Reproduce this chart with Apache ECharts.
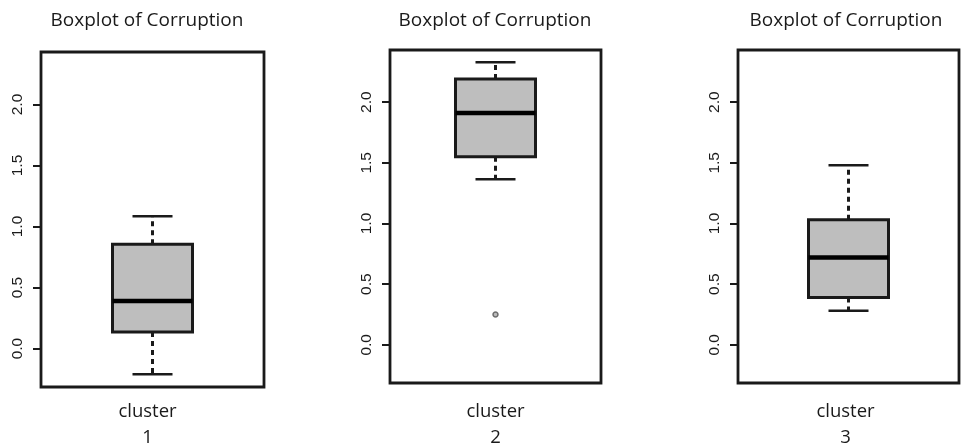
<!DOCTYPE html>
<html>
<head>
<meta charset="utf-8">
<script src="https://cdn.jsdelivr.net/npm/echarts@6/dist/echarts.min.js"></script>
<style>html,body{margin:0;padding:0;background:#fff}#c{width:961px;height:446px}</style>
</head>
<body>
<div id="c"></div>
<script>
// Data
const titleText = 'Boxplot of Corruption';
const xName = 'cluster';
const clusters = ['1', '2', '3'];
const lowerWhisker = [-0.21, 1.365, 0.28];
const q1 = [0.135, 1.55, 0.39];
const median = [0.39, 1.91, 0.72];
const q3 = [0.855, 2.19, 1.03];
const upperWhisker = [1.085, 2.33, 1.48];
const outliers = [[1, 0.25]]; // [cluster index, value]
const yTicks = [0, 0.5, 1.0, 1.5, 2.0];
const yMin = -0.315, yMax = 2.43;

const grids = [
  {left: 41, top: 52, width: 223, height: 335},
  {left: 390, top: 50, width: 211, height: 333},
  {left: 738, top: 50, width: 221, height: 333}
];
const titleCenters = [142, 490, 841];
const labelPads = [[0, 10, 0, 0], [0, 0, 0, 0], [0, 6, 0, 0]];
const labelMargins = [12, 16, 16];

const chart = echarts.init(document.getElementById('c'));
const option = {
  animation: false,
  backgroundColor: '#fff',
  title: grids.map((g, i) => ({
    text: titleText,
    left: titleCenters[i],
    top: 6,
    textAlign: 'center',
    textStyle: {fontFamily: 'Open Sans', fontSize: 19, fontWeight: 'normal', color: '#1a1a1a'}
  })),
  grid: grids.map(g => Object.assign({
    show: true, borderColor: '#1a1a1a', borderWidth: 2.8, backgroundColor: 'transparent',
    containLabel: false, outerBoundsMode: 'none'
  }, g)),
  xAxis: clusters.map((c, i) => ({
    type: 'category', gridIndex: i, data: [c], boundaryGap: true,
    axisLine: {show: false}, axisTick: {show: false}, splitLine: {show: false},
    axisLabel: {
      margin: labelMargins[i], fontFamily: 'Open Sans', fontSize: 18.5, color: '#1a1a1a', lineHeight: 26,
      padding: labelPads[i],
      formatter: v => xName + '\n' + v
    }
  })),
  yAxis: clusters.map((c, i) => ({
    type: 'value', gridIndex: i, min: yMin, max: yMax,
    axisLine: {show: false},
    splitLine: {show: false},
    axisTick: {show: true, inside: false, length: 8, customValues: yTicks, lineStyle: {color: '#1a1a1a', width: 2}},
    axisLabel: {
      show: true, customValues: yTicks, rotate: 90, margin: 15,
      fontFamily: 'Liberation Sans', fontSize: 15.5, color: '#1a1a1a',
      formatter: v => Number(v).toFixed(1)
    }
  })),
  series: clusters.map((c, i) => ({
    type: 'custom', xAxisIndex: i, yAxisIndex: i, z: 2,
    data: [[0, lowerWhisker[i], q1[i], median[i], q3[i], upperWhisker[i]]],
    renderItem: function (params, api) {
      const x = api.coord([0, 0])[0];
      const yLo = api.coord([0, api.value(1)])[1];
      const yQ1 = api.coord([0, api.value(2)])[1];
      const yMed = api.coord([0, api.value(3)])[1];
      const yQ3 = api.coord([0, api.value(4)])[1];
      const yHi = api.coord([0, api.value(5)])[1];
      const bw = 80, cw = 40;
      const dash = {stroke: '#1a1a1a', lineWidth: 3, lineDash: [5, 4]};
      const solid = {stroke: '#1a1a1a', lineWidth: 2.5};
      return {
        type: 'group',
        children: [
          {type: 'line', shape: {x1: x, y1: yQ3, x2: x, y2: yHi}, style: dash},
          {type: 'line', shape: {x1: x, y1: yQ1, x2: x, y2: yLo}, style: dash},
          {type: 'line', shape: {x1: x - cw / 2, y1: yHi, x2: x + cw / 2, y2: yHi}, style: solid},
          {type: 'line', shape: {x1: x - cw / 2, y1: yLo, x2: x + cw / 2, y2: yLo}, style: solid},
          {type: 'rect', shape: {x: x - bw / 2, y: yQ3, width: bw, height: yQ1 - yQ3}, style: {fill: '#bebebe', stroke: '#1a1a1a', lineWidth: 3}},
          {type: 'line', shape: {x1: x - bw / 2, y1: yMed, x2: x + bw / 2, y2: yMed}, style: {stroke: '#000', lineWidth: 4.5}}
        ]
      };
    }
  })).concat(outliers.map(o => ({
    type: 'scatter', xAxisIndex: o[0], yAxisIndex: o[0], z: 5,
    data: [[clusters[o[0]], o[1]]], symbol: 'circle', symbolSize: 5,
    itemStyle: {color: '#aaa', borderColor: '#555', borderWidth: 1.5}
  })))
};
chart.setOption(option);
</script>
</body>
</html>
